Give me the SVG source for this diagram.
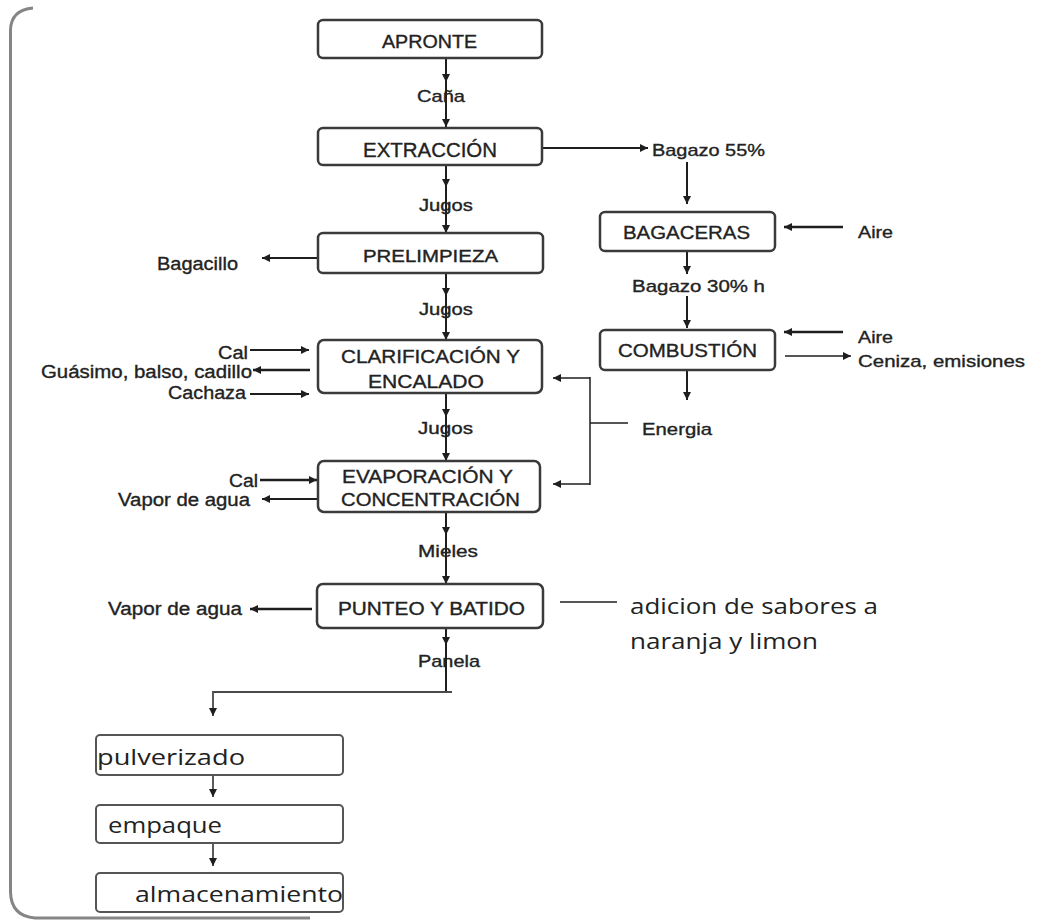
<svg xmlns="http://www.w3.org/2000/svg" width="1048" height="924" viewBox="0 0 1048 924">
<style>
.bg{fill:#ffffff}
.frame{fill:none;stroke:#858585;stroke-width:3}
.box{fill:#ffffff;stroke:#3a3a3a;stroke-width:2.5}
.box2{fill:#ffffff;stroke:#555555;stroke-width:2}
.t{font-family:"Liberation Sans",Arial,sans-serif;fill:#222222;stroke:#222222;stroke-width:0.35}
.c{font-family:"Open Sans","Noto Sans",sans-serif;fill:#222222;font-size:22px}
.ln{fill:none;stroke:#1e1e1e;stroke-width:2}
.lt{fill:none;stroke:#1e1e1e;stroke-width:1.5}
.lb{fill:none;stroke:#1e1e1e;stroke-width:2.6}
.lg{fill:none;stroke:#4a4a4a;stroke-width:1.8}
</style>
<defs>
<marker id="ah" viewBox="0 0 10 10" refX="10" refY="5" markerWidth="9" markerHeight="8" markerUnits="userSpaceOnUse" orient="auto">
<path d="M0,0 L10,5 L0,10 z" fill="#1e1e1e"/>
</marker>
</defs>
<rect class="bg" x="0" y="0" width="1048" height="924"/>
<path class="frame" d="M33 8 Q11 10 10.5 30 L10.5 892 Q11 916 35 918 L310 918"/>

<g id="connectors">
<polyline class="ln" points="446,58 446,82 446,127" marker-mid="url(#ah)" marker-end="url(#ah)"/>
<polyline class="ln" points="446,165 446,187 446,233" marker-mid="url(#ah)" marker-end="url(#ah)"/>
<polyline class="ln" points="446,273 446,296 446,340" marker-mid="url(#ah)" marker-end="url(#ah)"/>
<polyline class="ln" points="446,393 446,417 446,461" marker-mid="url(#ah)" marker-end="url(#ah)"/>
<polyline class="ln" points="446,512 446,535 446,584" marker-mid="url(#ah)" marker-end="url(#ah)"/>
<polyline class="ln" points="446,628 446,645 446,692" marker-mid="url(#ah)"/>
<polyline class="lg" points="452,692 213,692 213,716" marker-end="url(#ah)"/>
<line class="lg" x1="213" y1="775" x2="213" y2="797" marker-end="url(#ah)"/>
<line class="lg" x1="213" y1="843" x2="213" y2="866" marker-end="url(#ah)"/>
<line class="ln" x1="542" y1="148" x2="648" y2="148" marker-end="url(#ah)"/>
<line class="ln" x1="687" y1="162" x2="687" y2="204" marker-end="url(#ah)"/>
<line class="ln" x1="687" y1="251" x2="687" y2="274" marker-end="url(#ah)"/>
<line class="ln" x1="687" y1="296" x2="687" y2="328" marker-end="url(#ah)"/>
<line class="lb" x1="843" y1="227" x2="784" y2="227" marker-end="url(#ah)"/>
<line class="lb" x1="843" y1="332" x2="784" y2="332" marker-end="url(#ah)"/>
<line class="lt" x1="785" y1="356" x2="851" y2="356" marker-end="url(#ah)"/>
<line class="ln" x1="687" y1="370" x2="687" y2="400" marker-end="url(#ah)"/>
<path class="lt" d="M628 423 L590 423 M590 377 L590 485"/>
<line class="lt" x1="590" y1="378" x2="553" y2="378" marker-end="url(#ah)"/>
<line class="lt" x1="590" y1="484" x2="553" y2="484" marker-end="url(#ah)"/>
<line class="ln" x1="318" y1="258" x2="262" y2="258" marker-end="url(#ah)"/>
<line class="ln" x1="250" y1="350" x2="309" y2="350" marker-end="url(#ah)"/>
<line class="lb" x1="310" y1="370" x2="253" y2="370" marker-end="url(#ah)"/>
<line class="ln" x1="250" y1="394" x2="309" y2="394" marker-end="url(#ah)"/>
<line class="lb" x1="260" y1="480" x2="317" y2="480" marker-end="url(#ah)"/>
<line class="ln" x1="318" y1="499" x2="262" y2="499" marker-end="url(#ah)"/>
<line class="lb" x1="312" y1="609" x2="250" y2="609" marker-end="url(#ah)"/>
<line class="lt" x1="560" y1="602" x2="617" y2="602"/>
</g>

<g id="apronte"><rect class="box" x="318" y="20" width="224" height="38" rx="5"/>
<text class="t" x="382" y="48" font-size="18" textLength="95" lengthAdjust="spacingAndGlyphs">APRONTE</text></g>
<g id="extraccion"><rect class="box" x="318" y="128" width="224" height="37" rx="5"/>
<text class="t" x="363" y="157" font-size="20" textLength="134" lengthAdjust="spacingAndGlyphs">EXTRACCIÓN</text></g>
<g id="prelimpieza"><rect class="box" x="318" y="233" width="225" height="40" rx="5"/>
<text class="t" x="363" y="262" font-size="17" textLength="135" lengthAdjust="spacingAndGlyphs">PRELIMPIEZA</text></g>
<g id="clarificacion"><rect class="box" x="318" y="340" width="224" height="53" rx="6"/>
<text class="t" x="341" y="363" font-size="19" textLength="179" lengthAdjust="spacingAndGlyphs">CLARIFICACIÓN Y</text>
<text class="t" x="368" y="388" font-size="19" textLength="116" lengthAdjust="spacingAndGlyphs">ENCALADO</text></g>
<g id="evaporacion"><rect class="box" x="318" y="461" width="222" height="51" rx="6"/>
<text class="t" x="342" y="483" font-size="19" textLength="171" lengthAdjust="spacingAndGlyphs">EVAPORACIÓN Y</text>
<text class="t" x="341" y="506" font-size="19" textLength="179" lengthAdjust="spacingAndGlyphs">CONCENTRACIÓN</text></g>
<g id="punteo"><rect class="box" x="317" y="584" width="226" height="44" rx="6"/>
<text class="t" x="338" y="615" font-size="18" textLength="187" lengthAdjust="spacingAndGlyphs">PUNTEO Y BATIDO</text></g>
<g id="bagaceras"><rect class="box" x="600" y="212" width="175" height="39" rx="5"/>
<text class="t" x="623" y="239" font-size="19" textLength="127" lengthAdjust="spacingAndGlyphs">BAGACERAS</text></g>
<g id="combustion"><rect class="box" x="600" y="330" width="175" height="40" rx="5"/>
<text class="t" x="618" y="357" font-size="19" textLength="139" lengthAdjust="spacingAndGlyphs">COMBUSTIÓN</text></g>
<g id="pulverizado"><rect class="box2" x="96" y="735" width="247" height="40" rx="4"/>
<text class="c" x="97" y="765" textLength="148" lengthAdjust="spacingAndGlyphs">pulverizado</text></g>
<g id="empaque"><rect class="box2" x="96" y="805" width="247" height="38" rx="4"/>
<text class="c" x="108" y="833" textLength="114" lengthAdjust="spacingAndGlyphs">empaque</text></g>
<g id="almacenamiento"><rect class="box2" x="96" y="873" width="247" height="39" rx="4"/>
<text class="c" x="135" y="902" textLength="208" lengthAdjust="spacingAndGlyphs">almacenamiento</text></g>

<g id="labels">
<text class="t" x="417" y="102" font-size="17" textLength="48" lengthAdjust="spacingAndGlyphs">Caña</text>
<text class="t" x="419" y="211" font-size="17" textLength="54" lengthAdjust="spacingAndGlyphs">Jugos</text>
<text class="t" x="419" y="315" font-size="17" textLength="54" lengthAdjust="spacingAndGlyphs">Jugos</text>
<text class="t" x="418" y="434" font-size="17" textLength="55" lengthAdjust="spacingAndGlyphs">Jugos</text>
<text class="t" x="418" y="557" font-size="17" textLength="60" lengthAdjust="spacingAndGlyphs">Mieles</text>
<text class="t" x="418" y="667" font-size="17" textLength="62" lengthAdjust="spacingAndGlyphs">Panela</text>
<text class="t" x="157" y="270" font-size="18" textLength="81" lengthAdjust="spacingAndGlyphs">Bagacillo</text>
<text class="t" x="218" y="359" font-size="18" textLength="30" lengthAdjust="spacingAndGlyphs">Cal</text>
<text class="t" x="41" y="378" font-size="18" textLength="211" lengthAdjust="spacingAndGlyphs">Guásimo, balso, cadillo</text>
<text class="t" x="168" y="399" font-size="18" textLength="78" lengthAdjust="spacingAndGlyphs">Cachaza</text>
<text class="t" x="229" y="487" font-size="18" textLength="29" lengthAdjust="spacingAndGlyphs">Cal</text>
<text class="t" x="118" y="506" font-size="18" textLength="132" lengthAdjust="spacingAndGlyphs">Vapor de agua</text>
<text class="t" x="108" y="615" font-size="18" textLength="134" lengthAdjust="spacingAndGlyphs">Vapor de agua</text>
<text class="t" x="652" y="156" font-size="17" textLength="113" lengthAdjust="spacingAndGlyphs">Bagazo 55%</text>
<text class="t" x="858" y="238" font-size="17" textLength="35" lengthAdjust="spacingAndGlyphs">Aire</text>
<text class="t" x="632" y="292" font-size="17" textLength="133" lengthAdjust="spacingAndGlyphs">Bagazo 30% h</text>
<text class="t" x="858" y="343" font-size="17" textLength="35" lengthAdjust="spacingAndGlyphs">Aire</text>
<text class="t" x="858" y="367" font-size="17" textLength="167" lengthAdjust="spacingAndGlyphs">Ceniza, emisiones</text>
<text class="t" x="642" y="435" font-size="17" textLength="70" lengthAdjust="spacingAndGlyphs">Energia</text>
<text class="c" x="630" y="614" textLength="248" lengthAdjust="spacingAndGlyphs">adicion de sabores a</text>
<text class="c" x="630" y="649" textLength="188" lengthAdjust="spacingAndGlyphs">naranja y limon</text>
</g>
</svg>
